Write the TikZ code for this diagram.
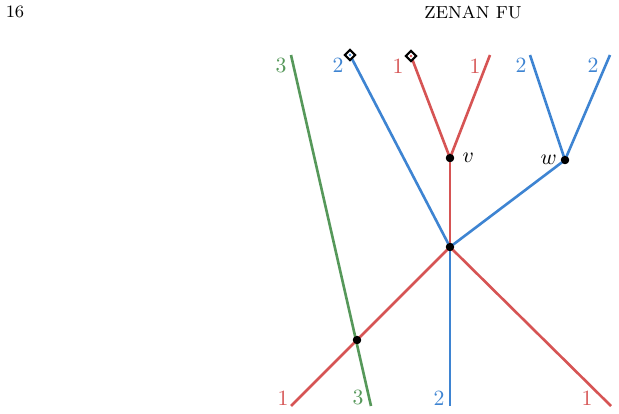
\documentclass[tikz,border=0pt]{standalone}
\usetikzlibrary{positioning,
shapes.geometric}
\definecolor{redline}{RGB}{214,84,84}
\definecolor{blueline}{RGB}{62,132,210}
\definecolor{greenline}{RGB}{86,152,90}

\begin{document}
\begin{tikzpicture} [x=0.46pt,
    y=-0.46pt,
    strand/.style={line width=1.2pt},
    vertex/.style={circle, fill=black, inner sep=0pt,
        minimum size=3.8pt},
    endmark/.style={diamond, draw=black, fill=white,
        line width=1pt, inner sep=0pt, minimum size=5.2pt},
    label node/.style={inner sep=0pt},
    head/.style={font=\fontsize{8}{10}\selectfont}
  ]

  \useasboundingbox (0, 0) rectangle (619, 414);

  \node [head] (pagenum) at (15, 12) {16};
  \node [head] (runhead) at (473, 12) {ZENAN FU};

  %%%%%%%%%%%%%%%%%%%%%%%%%%%%%%

  % ends of the strands
  \coordinate (gtop) at (291, 55);
  \coordinate (gbot) at (371, 406);
  \coordinate (btopl) at (350, 55);
  \coordinate (rtopl) at (411, 56);
  \coordinate (rtopr) at (490, 55);
  \coordinate (btopm) at (530, 55);
  \coordinate (btopr) at (610, 55);
  \coordinate (rbotl) at (291, 406);
  \coordinate (bbot) at (450, 406);
  \coordinate (rbotr) at (611, 406);

  % vertices
  \node [vertex] (v) at (450, 158) {};
  \node [vertex] (w) at (565, 160) {};
  \node [vertex] (mid) at (450, 247) {};
  \node [vertex] (cross) at (357, 340) {};

  %%%%%%%%%%%%%%%%%%%%%%%%%%%%%%

  \draw [strand, greenline] (gtop) -- (gbot);
  \draw [strand, blueline] (btopl) -- (mid.center);
  \draw [strand, redline] (rtopl) -- (v.center);
  \draw [strand, redline] (rtopr) -- (v.center);
  \draw [strand, redline] (v.center) -- (mid.center);
  \draw [strand, blueline] (btopm) -- (w.center);
  \draw [strand, blueline] (btopr) -- (w.center);
  \draw [strand, blueline] (w.center) -- (mid.center);
  \draw [strand, redline] (mid.center) -- (cross.center) -- (rbotl);
  \draw [strand, blueline] (mid.center) -- (bbot);
  \draw [strand, redline] (mid.center) -- (rbotr);

  \node [endmark] (mkb) at (btopl) {};
  \fill [blueline] (mkb.center) circle (0.6pt);
  \node [endmark] (mkr) at (rtopl) {};
  \fill [redline] (mkr.center) circle (0.6pt);

  % redraw the dots on top
  \foreach \p in {v, w, mid, cross}
    \fill (\p.center) circle (1.9pt);

  %%%%%%%%%%%%%%%%%%%%%%%%%%%%%%

  \node [label node, text=greenline] (lg1) at (281, 65) {$3$};
  \node [label node, text=blueline] (lb1) at (338, 65) {$2$};
  \node [label node, text=redline] (lr1) at (398, 66) {$1$};
  \node [label node, text=redline] (lr2) at (475, 66) {$1$};
  \node [label node, text=blueline] (lb2) at (521, 65) {$2$};
  \node [label node, text=blueline] (lb3) at (593, 65) {$2$};

  \node [label node, right = 3.5pt of v] (lv) {$v$};
  \node [label node, left = 1.5pt of w] (lw) {$w$};

  \node [label node, text=redline] (lr3) at (283, 398) {$1$};
  \node [label node, text=greenline] (lg2) at (358, 397) {$3$};
  \node [label node, text=blueline] (lb4) at (439, 398) {$2$};
  \node [label node, text=redline] (lr4) at (587, 398) {$1$};

\end{tikzpicture}
\end{document}
